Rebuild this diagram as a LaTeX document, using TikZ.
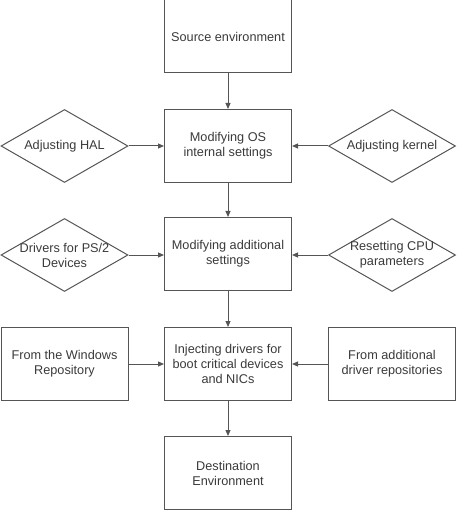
\documentclass[tikz,border=0pt]{standalone}
\usepackage{fontspec}
\setmainfont{Liberation Sans}
\usetikzlibrary{shapes.geometric,arrows.meta}
\definecolor{linec}{HTML}{555555}
\definecolor{textc}{HTML}{3A3A3A}
\begin{document}
\begin{tikzpicture}[x=1pt,y=-1pt,
  box/.style={draw=linec,line width=1pt,minimum width=127pt,minimum height=73pt,inner sep=0pt,align=center,text=textc,font=\fontsize{12.7}{15}\selectfont},
  dia/.style={draw=linec,line width=1pt,diamond,minimum width=127pt,minimum height=73pt,inner sep=0pt},
  txt/.style={align=center,text=textc,font=\fontsize{12.7}{15}\selectfont,inner sep=0pt},
  conn/.style={draw=linec,line width=1pt,-{Triangle[length=6pt,width=5pt]}}]
\useasboundingbox (0,0) rectangle (456,510);
\node[box] (src) at (228,36.5) {Source environment};
\node[box] (os) at (228,146) {Modifying OS\\internal settings};
\node[box] (add) at (228,254) {Modifying additional\\settings};
\node[box] (inj) at (228,364) {Injecting drivers for\\boot critical devices\\and NICs};
\node[box] (dst) at (228,473) {Destination\\Environment};
\node[dia] (hal) at (64.5,146) {};
\node[txt] (halt) at (hal.center) {Adjusting HAL};
\node[dia] (ker) at (392,146) {};
\node[txt] (kert) at (ker.center) {Adjusting kernel};
\node[dia] (ps2) at (64.5,255) {};
\node[txt] (ps2t) at (ps2.center) {Drivers for PS/2\\Devices};
\node[dia] (cpu) at (392,255) {};
\node[txt] (cput) at (cpu.center) {Resetting CPU\\parameters};
\node[box] (win) at (64.5,364) {From the Windows\\Repository};
\node[box] (rep) at (392,364) {From additional\\driver repositories};
\draw[conn] (src) -- (os);
\draw[conn] (os) -- (add);
\draw[conn] (add) -- (inj);
\draw[conn] (inj) -- (dst);
\draw[conn] (hal.east) -- (os.west);
\draw[conn] (ker.west) -- (os.east);
\draw[conn] (ps2.east) -- (ps2.east -| add.west);
\draw[conn] (cpu.west) -- (cpu.west -| add.east);
\draw[conn] (win) -- (inj);
\draw[conn] (rep) -- (inj);
\end{tikzpicture}
\end{document}
